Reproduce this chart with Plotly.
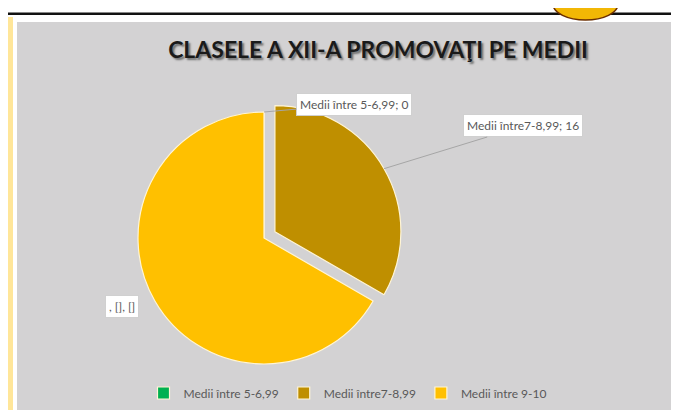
import math
import plotly.graph_objects as go

# ---- data ----
categories = ["Medii între 5-6,99", "Medii între7-8,99", "Medii între 9-10"]
values = [0, 16, 32]
label_texts = ["Medii între 5-6,99; 0", "Medii între7-8,99; 16", ", [], []"]
colors = ["#00B050", "#BF8F00", "#FFC000"]
pulls = [0, 0.1, 0]
title_text = "CLASELE A XII-A PROMOVAŢI PE MEDII"

W, H = 679, 410
# pie geometry (pixels)
cx_px, cy_px, r_px = 256, 230, 126
max_pull = max(pulls)
half_box = r_px * (1 + max_pull)
dom_x = [(cx_px - half_box) / W, (cx_px + half_box) / W]
dom_y = [1 - (cy_px + half_box) / H, 1 - (cy_px - half_box) / H]

fig = go.Figure()
fig.add_trace(go.Pie(
    labels=categories,
    values=values,
    sort=False,
    direction="clockwise",
    rotation=0,
    pull=pulls,
    marker=dict(colors=colors, line=dict(color="#FFF5D6", width=1.2)),
    textinfo="none",
    hoverinfo="label+value",
    domain=dict(x=dom_x, y=dom_y),
    showlegend=True,
))

# label annotations with leader lines computed from slice angles
total = sum(values)
label_pos = [(346, 96), (515, 118), (97, 310)]
arrow = [True, True, False]
cum = 0
for i, v in enumerate(values):
    mid = cum + v / 2
    cum += v
    ang = math.radians(90 - 360 * mid / total)
    rr = r_px * (1 + pulls[i])
    tip_x = cx_px + rr * math.cos(ang)
    tip_y = cy_px - rr * math.sin(ang)
    tx, ty = label_pos[i]
    if arrow[i]:
        fig.add_annotation(
            x=tip_x / W, y=1 - tip_y / H, xref="paper", yref="paper",
            ax=tx - tip_x, ay=ty - tip_y, axref="pixel", ayref="pixel",
            text=label_texts[i], showarrow=True, arrowhead=0, arrowwidth=1,
            arrowcolor="#A6A6A6", bgcolor="white", bordercolor="#D0D0D0",
            borderwidth=1, borderpad=3,
            font=dict(family="Lato, Open Sans, sans-serif", size=12, color="#595959"),
        )
    else:
        fig.add_annotation(
            x=tx / W, y=1 - ty / H, xref="paper", yref="paper",
            text=label_texts[i], showarrow=False,
            bgcolor="white", bordercolor="#D0D0D0", borderwidth=1, borderpad=3,
            font=dict(family="Lato, Open Sans, sans-serif", size=12, color="#595959"),
        )

# page decoration (document frame around chart)
shapes = [
    dict(type="rect", xref="paper", yref="paper", x0=0, x1=1, y0=1 - 14 / H, y1=1,
         fillcolor="white", line=dict(width=0), layer="below"),
    dict(type="rect", xref="paper", yref="paper", x0=0, x1=9 / W, y0=0, y1=1,
         fillcolor="white", line=dict(width=0), layer="below"),
    dict(type="rect", xref="paper", yref="paper", x0=0, x1=5 / W, y0=0, y1=1 - 9 / H,
         fillcolor="#FFE699", line=dict(width=0), layer="below"),
    dict(type="rect", xref="paper", yref="paper", x0=0, x1=1, y0=1 - 7 / H, y1=1 - 4.5 / H,
         fillcolor="#111111", line=dict(width=0), layer="below"),
    dict(type="circle", xref="paper", yref="paper", x0=545 / W, x1=610 / W,
         y0=1 - 12 / H, y1=1 + 20 / H,
         fillcolor="#F2B705", line=dict(color="#6B2E00", width=1.5), layer="above"),
]

fig.update_layout(
    width=W, height=H,
    margin=dict(l=0, r=0, t=0, b=0),
    paper_bgcolor="#D3D2D3",
    plot_bgcolor="#D3D2D3",
    shapes=shapes,
    title=dict(
        text="<b>" + title_text + "</b>",
        x=370 / W, xanchor="center", y=1 - 42 / H, yanchor="middle",
        font=dict(family="Lato, Open Sans, sans-serif", size=23, color="#1A1A1A",
                  shadow="2px 2px 2px #6E6E6E"),
    ),
    legend=dict(
        orientation="h", x=0.5, xanchor="center", y=1 - 385 / H, yanchor="middle",
        font=dict(family="Lato, Open Sans, sans-serif", size=12, color="#595959"),
        bgcolor="rgba(0,0,0,0)",
    ),
)

fig.write_html("out.html")
